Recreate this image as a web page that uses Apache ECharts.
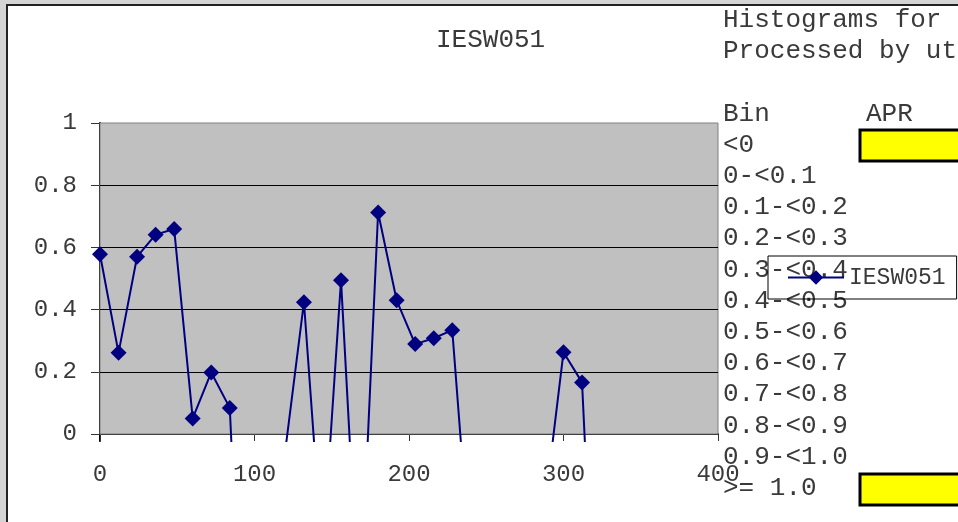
<!DOCTYPE html>
<html>
<head>
<meta charset="utf-8">
<script src="https://cdn.jsdelivr.net/npm/echarts@6/dist/echarts.min.js"></script>
<style>html,body{margin:0;padding:0;background:#d4d4d4;}#c{width:958px;height:522px;}</style>
</head>
<body>
<div id="c"></div>
<script>
// ---- data ----
const seriesName = 'IESW051';
const xValues = [0, 12, 24, 36, 48, 60, 72, 84, 96, 108, 120, 132, 144, 156, 168, 180, 192, 204, 216, 228, 240, 252, 264, 276, 288, 300, 312, 324];
const yValues = [0.578, 0.261, 0.570, 0.641, 0.659, 0.050, 0.198, 0.084, -1.2, -1.0, -0.05, 0.424, -0.40, 0.494, -0.60, 0.712, 0.430, 0.289, 0.308, 0.334, -0.44, -1.0, -1.0, -1.0, -0.23, 0.263, 0.166, -1.09];
const yTicks = [0, 0.2, 0.4, 0.6, 0.8, 1];
const gridLines = [0.2, 0.4, 0.6, 0.8];
const xTicks = [0, 100, 200, 300, 400];
const headerLines = ['Histograms for', 'Processed by ut'];
const binHeader = 'Bin';
const aprHeader = 'APR';
const binLabels = ['<0', '0-<0.1', '0.1-<0.2', '0.2-<0.3', '0.3-<0.4', '0.4-<0.5', '0.5-<0.6', '0.6-<0.7', '0.7-<0.8', '0.8-<0.9', '0.9-<1.0', '>= 1.0'];

const FONT = '"Liberation Mono", "DejaVu Sans Mono", monospace';
const TXT = '#3a3a3a';

const chart = echarts.init(document.getElementById('c'), null, {renderer: 'canvas'});

const graphics = [
  {type: 'rect', z: -10, shape: {x: 7, y: 5, width: 1000, height: 1000},
   style: {fill: '#ffffff', stroke: '#222', lineWidth: 2}, silent: true}
];
const tx = 723;
graphics.push({type: 'text', z: 0, x: tx, y: 20, style: {text: headerLines[0], font: '26px ' + FONT, fill: TXT, verticalAlign: 'middle', align: 'left'}});
graphics.push({type: 'text', z: 0, x: tx, y: 51, style: {text: headerLines[1], font: '26px ' + FONT, fill: TXT, verticalAlign: 'middle', align: 'left'}});
graphics.push({type: 'text', z: 0, x: tx, y: 114, style: {text: binHeader, font: '26px ' + FONT, fill: TXT, verticalAlign: 'middle', align: 'left'}});
graphics.push({type: 'text', z: 0, x: 866, y: 114, style: {text: aprHeader, font: '26px ' + FONT, fill: TXT, verticalAlign: 'middle', align: 'left'}});
binLabels.forEach((t, i) => {
  graphics.push({type: 'text', z: 0, x: tx, y: 145 + i * 31.2, style: {text: t, font: '26px ' + FONT, fill: TXT, verticalAlign: 'middle', align: 'left'}});
});
graphics.push({type: 'rect', z: 1, shape: {x: 860, y: 130, width: 120, height: 31}, style: {fill: '#ffff00', stroke: '#000', lineWidth: 3}});
graphics.push({type: 'rect', z: 1, shape: {x: 860, y: 474, width: 120, height: 31}, style: {fill: '#ffff00', stroke: '#000', lineWidth: 3}});

const option = {
  backgroundColor: '#d4d4d4',
  animation: false,
  title: {
    text: seriesName, left: 436, top: 27, padding: 0,
    textStyle: {fontFamily: FONT, fontSize: 26, fontWeight: 'normal', color: TXT}
  },
  legend: {
    data: [seriesName], left: 768, top: 256, orient: 'horizontal',
    padding: [10, 11, 10, 19], borderColor: '#000', borderWidth: 1, backgroundColor: 'transparent',
    itemWidth: 56, itemHeight: 18, itemGap: 0,
    textStyle: {fontFamily: FONT, fontSize: 23, color: TXT}
  },
  graphic: graphics,
  grid: {left: 100, right: 240, top: 123, bottom: 81, containLabel: false},
  xAxis: {
    type: 'value', min: 0, max: 400, interval: 100,
    splitLine: {show: false},
    axisLine: {show: true, onZero: true, lineStyle: {color: '#000', width: 2}},
    axisTick: {show: true, inside: false, length: 7, lineStyle: {color: '#333', width: 1}},
    axisLabel: {margin: 22, fontFamily: FONT, fontSize: 24, color: TXT, customValues: xTicks}
  },
  yAxis: {
    type: 'value', min: -0.0225, max: 1,
    splitLine: {show: false},
    axisLine: {show: true, lineStyle: {color: '#000', width: 2}},
    axisTick: {show: true, inside: false, length: 9, customValues: yTicks, lineStyle: {color: '#333', width: 1}},
    axisLabel: {margin: 23, fontFamily: FONT, fontSize: 24, color: TXT, customValues: yTicks,
      formatter: v => String(+(+v).toFixed(1))}
  },
  series: [
    {
      name: '__bg', type: 'line', data: [], z: 1, silent: true,
      markArea: {
        silent: true,
        itemStyle: {color: '#c0c0c0', borderColor: '#808080', borderWidth: 1},
        data: [[{xAxis: 0, yAxis: 0}, {xAxis: 400, yAxis: 1}]]
      },
      markLine: {
        silent: true, symbol: 'none', label: {show: false},
        lineStyle: {color: '#000', width: 1, type: 'solid'},
        data: gridLines.map(v => ({yAxis: v}))
      }
    },
    {
      name: seriesName, type: 'line', z: 5,
      data: xValues.map((x, i) => [x, yValues[i]]),
      symbol: 'diamond', symbolSize: 16, showSymbol: true,
      lineStyle: {color: '#000080', width: 2},
      itemStyle: {color: '#000080'},
      clip: true
    }
  ]
};
chart.setOption(option);
</script>
</body>
</html>
